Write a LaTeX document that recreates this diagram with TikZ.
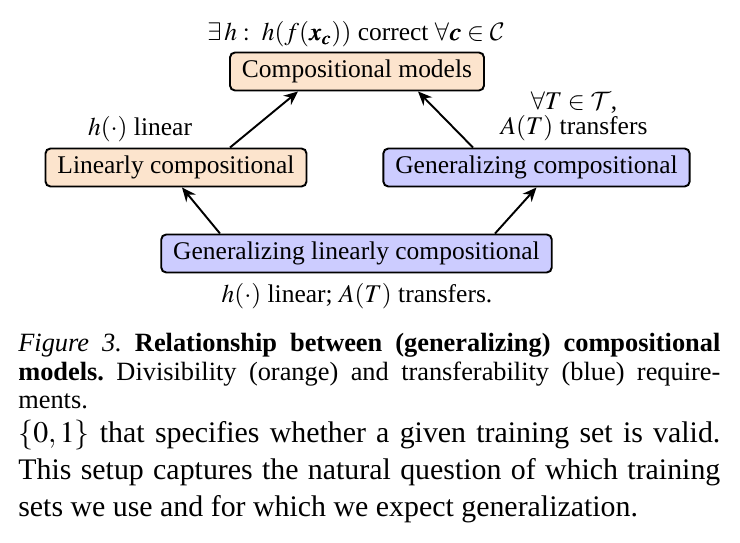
\documentclass[tikz,border=0pt]{standalone}
\usepackage{mathptmx}
\usepackage{bm}
\DeclareMathAlphabet{\mathcal}{OMS}{cmsy}{m}{n}
\usepackage{fontspec}
\setmainfont{Liberation Serif}
\usetikzlibrary{arrows.meta}
\definecolor{divorange}{RGB}{252,228,205}
\definecolor{transblue}{RGB}{204,204,255}
\begin{document}
\begin{tikzpicture}[
    reqbox/.style={draw, line width=1.1pt, rounded corners=1mm, minimum height=0.76cm,
      inner xsep=0.24cm, font=\fontsize{14.5}{16}\selectfont},
    divbox/.style={reqbox, fill=divorange},
    transbox/.style={reqbox, fill=transblue},
    req/.style={font=\fontsize{14.5}{12.5}\selectfont, align=center},
    arr/.style={line width=1.1pt, -{Stealth[length=2.8mm, width=2.4mm]}}
  ]
  \useasboundingbox (0,0) rectangle (14.8,-10.86);
  % the four kinds of models
  \node[divbox] (comp) at (7.14,-1.43) {Compositional models};
  \node[divbox] (lin) at (3.52,-3.35) {Linearly compositional};
  \node[transbox] (gen) at (10.73,-3.35) {Generalizing compositional};
  \node[transbox] (genlin) at (7.13,-5.07) {Generalizing linearly compositional};
  % requirements
  \node[req, anchor=base] (compreq) at (7.12,-0.82) {$\exists\, h:\ h(f(\bm{x}_{\bm{c}}))$ correct $\forall \bm{c} \in \mathcal{C}$};
  \node[req, anchor=base] (linreq) at (2.8,-2.72) {$h(\cdot)$ linear};
  \node[req, anchor=south] (genreq) at (11.48,-2.94) {$\forall T \in \mathcal{T}$,\\ $A(T)$ transfers};
  \node[req, anchor=base] (genlinreq) at (7.14,-6.06) {$h(\cdot)$ linear; $A(T)$ transfers.};
  \draw[arr] ([xshift=1.08cm]lin.north) -- ([xshift=-1.18cm]comp.south);
  \draw[arr] ([xshift=-1.27cm]gen.north) -- ([xshift=1.22cm]comp.south);
  \draw[arr] ([xshift=-2.73cm]genlin.north) -- ([xshift=0.12cm]lin.south);
  \draw[arr] ([xshift=2.77cm]genlin.north) -- (gen.south);
  % caption and text below
  \node[anchor=north west, inner sep=0, text width=14.04cm, align=justify,
    font=\fontsize{15}{16.2}\selectfont] (caption) at (0.36,-6.66)
    {\frenchspacing\textit{Figure 3.} \textbf{Relationship between (generalizing) compositional\linebreak models.}
     Divisibility (orange) and transferability (blue) require-\linebreak ments.};
  \node[anchor=north west, inner sep=0, text width=14.04cm, align=justify,
    font=\fontsize{17}{21}\selectfont] (body) at (0.36,-8.4)
    {$\{0,1\}$ that specifies whether a given training set is valid.\linebreak
     This setup captures the natural question of which training\linebreak
     sets we use and for which we expect generalization.};
\end{tikzpicture}
\end{document}
